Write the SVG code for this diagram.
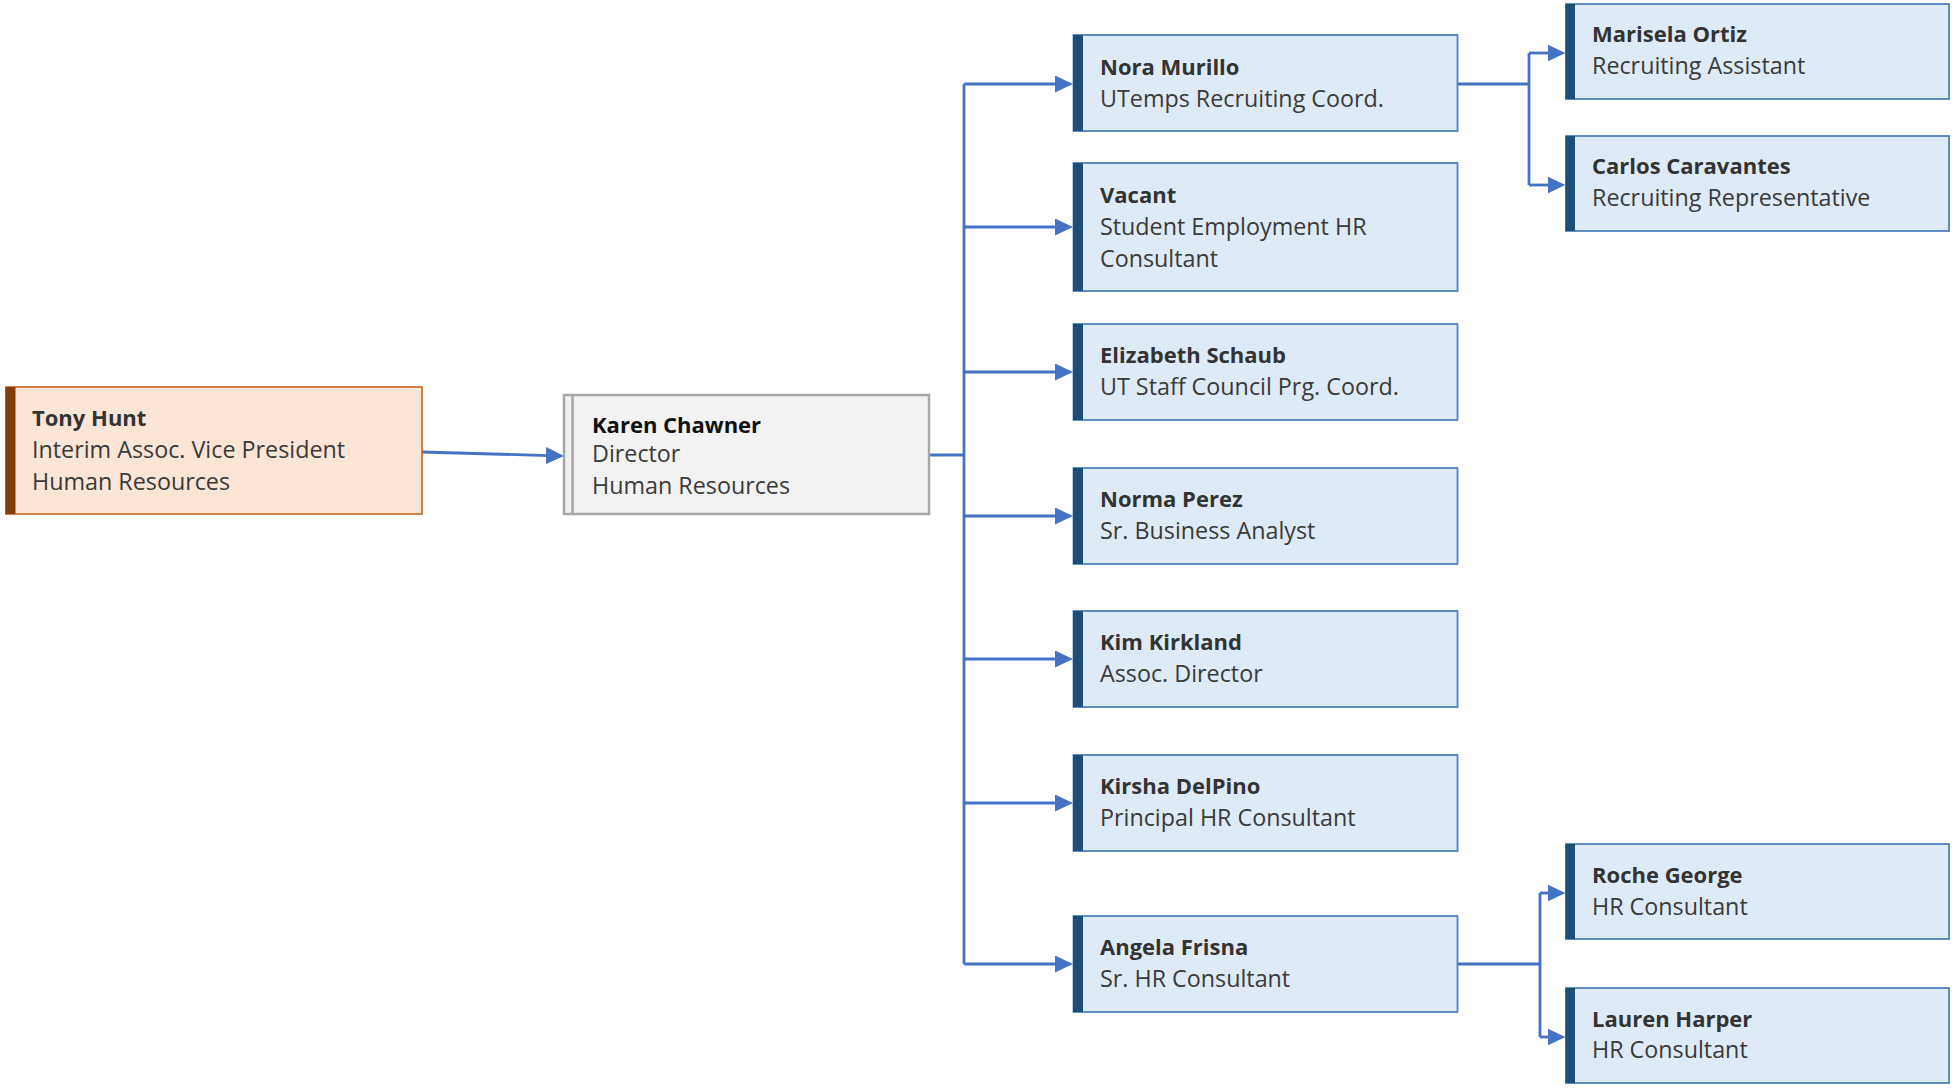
<svg xmlns="http://www.w3.org/2000/svg" width="1956" height="1089" viewBox="0 0 1956 1089">
<style>
  .bg{fill:#ffffff}
  .blue{fill:#DEEAF6;stroke:#4F81BD;stroke-width:1.8}
  .bar{fill:#1F4E79}
  .peach{fill:#FBE5D6;stroke:#C55A11;stroke-width:1.5}
  .pbar{fill:#843C0C}
  .gray{fill:#F2F2F2;stroke:#A6A6A6;stroke-width:2.5}
  .gline{stroke:#A6A6A6;stroke-width:2.5;fill:none}
  .name{font-family:"Open Sans","Noto Sans",sans-serif;font-size:22px;font-weight:bold;fill:#333333}
  .title{font-family:"Open Sans","Noto Sans",sans-serif;font-size:23.3px;fill:#3A3A3A}
  .conn{stroke:#4472C4;stroke-width:2.8;fill:none}
</style>
<defs>
  <marker id="arr" markerUnits="userSpaceOnUse" markerWidth="18" markerHeight="17" viewBox="0 0 18 17" refX="3" refY="8.5" orient="auto">
    <path d="M0,0 L18,8.5 L0,17 Z" fill="#4472C4"/>
  </marker>
</defs>
<rect class="bg" x="0" y="0" width="1956" height="1089"/>

<g id="connectors">
  <path class="conn" d="M422,452 L549,455.6" marker-end="url(#arr)"/>
  <path class="conn" d="M929,455 H964 M964,84 V964"/>
  <path class="conn" d="M964,84 H1058" marker-end="url(#arr)"/>
  <path class="conn" d="M964,227 H1058" marker-end="url(#arr)"/>
  <path class="conn" d="M964,372 H1058" marker-end="url(#arr)"/>
  <path class="conn" d="M964,516 H1058" marker-end="url(#arr)"/>
  <path class="conn" d="M964,659 H1058" marker-end="url(#arr)"/>
  <path class="conn" d="M964,803 H1058" marker-end="url(#arr)"/>
  <path class="conn" d="M964,964 H1058" marker-end="url(#arr)"/>
  <path class="conn" d="M1457,84 H1529 M1529,53 V185"/>
  <path class="conn" d="M1529,53 H1550.5" marker-end="url(#arr)"/>
  <path class="conn" d="M1529,185 H1550.5" marker-end="url(#arr)"/>
  <path class="conn" d="M1457,964 H1540 M1540,893 V1037"/>
  <path class="conn" d="M1540,893 H1550.5" marker-end="url(#arr)"/>
  <path class="conn" d="M1540,1037 H1550.5" marker-end="url(#arr)"/>
</g>

<g id="tony-hunt">
  <rect class="peach" x="6" y="387" width="416" height="127"/>
  <rect class="pbar" x="5.5" y="387" width="10" height="127"/>
  <text class="name" x="32" y="426">Tony Hunt</text>
  <text class="title" x="32" y="458">Interim Assoc. Vice President</text>
  <text class="title" x="32" y="490">Human Resources</text>
</g>

<g id="karen-chawner">
  <rect class="gray" x="564" y="395" width="365" height="119"/>
  <line class="gline" x1="572.5" y1="395" x2="572.5" y2="514"/>
  <text class="name" x="592" y="433" style="fill:#111111">Karen Chawner</text>
  <text class="title" x="592" y="462">Director</text>
  <text class="title" x="592" y="494">Human Resources</text>
</g>

<g id="nora-murillo">
  <rect class="blue" x="1073.5" y="35" width="384" height="96"/>
  <rect class="bar" x="1073" y="35" width="10" height="96"/>
  <text class="name" x="1100" y="75">Nora Murillo</text>
  <text class="title" x="1100" y="107">UTemps Recruiting Coord.</text>
</g>

<g id="vacant">
  <rect class="blue" x="1073.5" y="163" width="384" height="128"/>
  <rect class="bar" x="1073" y="163" width="10" height="128"/>
  <text class="name" x="1100" y="203">Vacant</text>
  <text class="title" x="1100" y="235">Student Employment HR</text>
  <text class="title" x="1100" y="267">Consultant</text>
</g>

<g id="elizabeth-schaub">
  <rect class="blue" x="1073.5" y="324" width="384" height="96"/>
  <rect class="bar" x="1073" y="324" width="10" height="96"/>
  <text class="name" x="1100" y="363">Elizabeth Schaub</text>
  <text class="title" x="1100" y="395">UT Staff Council Prg. Coord.</text>
</g>

<g id="norma-perez">
  <rect class="blue" x="1073.5" y="468" width="384" height="96"/>
  <rect class="bar" x="1073" y="468" width="10" height="96"/>
  <text class="name" x="1100" y="507">Norma Perez</text>
  <text class="title" x="1100" y="539">Sr. Business Analyst</text>
</g>

<g id="kim-kirkland">
  <rect class="blue" x="1073.5" y="611" width="384" height="96"/>
  <rect class="bar" x="1073" y="611" width="10" height="96"/>
  <text class="name" x="1100" y="650">Kim Kirkland</text>
  <text class="title" x="1100" y="682">Assoc. Director</text>
</g>

<g id="kirsha-delpino">
  <rect class="blue" x="1073.5" y="755" width="384" height="96"/>
  <rect class="bar" x="1073" y="755" width="10" height="96"/>
  <text class="name" x="1100" y="794">Kirsha DelPino</text>
  <text class="title" x="1100" y="826">Principal HR Consultant</text>
</g>

<g id="angela-frisna">
  <rect class="blue" x="1073.5" y="916" width="384" height="96"/>
  <rect class="bar" x="1073" y="916" width="10" height="96"/>
  <text class="name" x="1100" y="955">Angela Frisna</text>
  <text class="title" x="1100" y="987">Sr. HR Consultant</text>
</g>

<g id="marisela-ortiz">
  <rect class="blue" x="1566" y="4" width="383" height="95"/>
  <rect class="bar" x="1565.5" y="4" width="9.5" height="95"/>
  <text class="name" x="1592" y="42">Marisela Ortiz</text>
  <text class="title" x="1592" y="74">Recruiting Assistant</text>
</g>

<g id="carlos-caravantes">
  <rect class="blue" x="1566" y="136" width="383" height="95"/>
  <rect class="bar" x="1565.5" y="136" width="9.5" height="95"/>
  <text class="name" x="1592" y="174">Carlos Caravantes</text>
  <text class="title" x="1592" y="206">Recruiting Representative</text>
</g>

<g id="roche-george">
  <rect class="blue" x="1566" y="844" width="383" height="95"/>
  <rect class="bar" x="1565.5" y="844" width="9.5" height="95"/>
  <text class="name" x="1592" y="883">Roche George</text>
  <text class="title" x="1592" y="915">HR Consultant</text>
</g>

<g id="lauren-harper">
  <rect class="blue" x="1566" y="988" width="383" height="95"/>
  <rect class="bar" x="1565.5" y="988" width="9.5" height="95"/>
  <text class="name" x="1592" y="1027">Lauren Harper</text>
  <text class="title" x="1592" y="1058">HR Consultant</text>
</g>
</svg>
